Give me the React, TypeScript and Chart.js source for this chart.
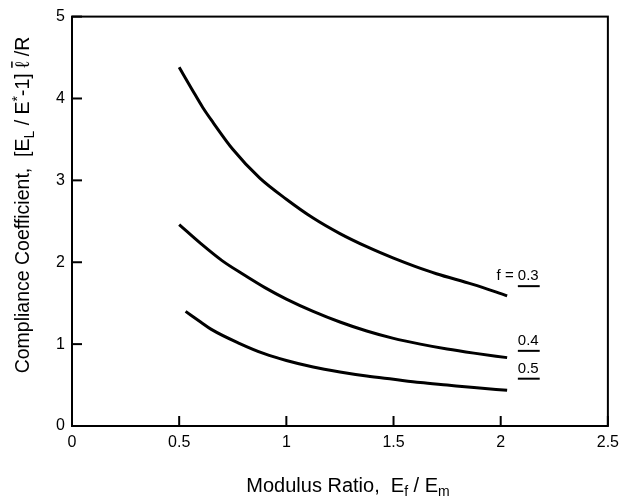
import React, { useEffect, useRef } from "react";
import { Chart, registerables } from "chart.js";

Chart.register(...registerables);

// Curve f = 0.3
const xF03 = [0.5, 0.56, 0.61, 0.66, 0.75, 0.875, 1.0, 1.125, 1.25, 1.375, 1.5, 1.6, 1.7, 1.87, 2.03];
const yF03 = [4.38, 4.11, 3.89, 3.7, 3.38, 3.03, 2.77, 2.54, 2.35, 2.19, 2.05, 1.95, 1.86, 1.73, 1.59];
// Curve f = 0.4
const xF04 = [0.5, 0.6, 0.7, 0.8, 0.9, 1.0, 1.125, 1.25, 1.375, 1.5, 1.625, 1.75, 1.875, 2.03];
const yF04 = [2.46, 2.23, 2.02, 1.85, 1.69, 1.55, 1.4, 1.27, 1.16, 1.07, 1.0, 0.94, 0.89, 0.835];
// Curve f = 0.5
const xF05 = [0.53, 0.6, 0.65, 0.78, 0.9, 1.0, 1.125, 1.25, 1.375, 1.5, 1.625, 1.75, 1.875, 2.03];
const yF05 = [1.4, 1.27, 1.18, 1.01, 0.88, 0.8, 0.72, 0.66, 0.61, 0.57, 0.53, 0.5, 0.47, 0.436];

const fractions = ["0.3", "0.4", "0.5"];
const xTickValues = [0, 0.5, 1, 1.5, 2, 2.5];
const yTickValues = [0, 1, 2, 3, 4, 5];

const FONT = "'Liberation Sans', Arial, Helvetica, sans-serif";

type Part = { t: string; sub?: boolean; sup?: boolean; over?: boolean };

function drawRich(ctx: CanvasRenderingContext2D, parts: Part[], cx: number, cy: number, size: number) {
  const small = Math.round(size * 0.7);
  const widths = parts.map((p) => {
    ctx.font = `${p.sub || p.sup ? small : size}px ${FONT}`;
    return ctx.measureText(p.t).width;
  });
  const total = widths.reduce((a, b) => a + b, 0);
  let x = cx - total / 2;
  ctx.textAlign = "left";
  ctx.textBaseline = "middle";
  parts.forEach((p, i) => {
    ctx.font = `${p.sub || p.sup ? small : size}px ${FONT}`;
    let dy = 0;
    if (p.sub) dy = size * 0.3;
    if (p.sup) dy = -size * 0.3;
    ctx.fillText(p.t, x, cy + dy);
    if (p.over) {
      ctx.beginPath();
      ctx.lineWidth = 1.5;
      ctx.moveTo(x, cy - size * 0.62);
      ctx.lineTo(x + widths[i], cy - size * 0.62);
      ctx.stroke();
    }
    x += widths[i];
  });
}

const decorPlugin = {
  id: "decor",
  afterDraw(chart: any) {
    const ctx: CanvasRenderingContext2D = chart.ctx;
    const { left, right, top, bottom } = chart.chartArea;
    const xs = chart.scales.x;
    const ys = chart.scales.y;
    ctx.save();
    ctx.strokeStyle = "#000";
    ctx.fillStyle = "#000";
    // frame
    ctx.lineWidth = 2;
    ctx.strokeRect(left, top, right - left, bottom - top);
    // inward ticks
    const tl = 10;
    xTickValues.forEach((v) => {
      const px = xs.getPixelForValue(v);
      ctx.beginPath();
      ctx.moveTo(px, bottom);
      ctx.lineTo(px, bottom - tl);
      ctx.stroke();
    });
    yTickValues.forEach((v) => {
      const py = ys.getPixelForValue(v);
      ctx.beginPath();
      ctx.moveTo(left, py);
      ctx.lineTo(left + tl, py);
      ctx.stroke();
    });
    // curve labels
    const labelX = xs.getPixelForValue(2.08);
    const labelYs = [1.83, 1.04, 0.7];
    ctx.font = `15px ${FONT}`;
    ctx.textBaseline = "middle";
    fractions.forEach((f, i) => {
      const py = ys.getPixelForValue(labelYs[i]);
      ctx.textAlign = "left";
      ctx.fillText(f, labelX, py);
      const w = ctx.measureText(f).width;
      ctx.beginPath();
      ctx.lineWidth = 2;
      ctx.moveTo(labelX, py + 10);
      ctx.lineTo(labelX + w + 1, py + 10);
      ctx.stroke();
      if (i === 0) {
        ctx.textAlign = "right";
        ctx.fillText("f = ", labelX, py);
      }
    });
    // axis titles
    drawRich(
      ctx,
      [{ t: "Modulus Ratio,  E" }, { t: "f", sub: true }, { t: " / E" }, { t: "m", sub: true }],
      348,
      486,
      20
    );
    ctx.save();
    ctx.translate(24, 205);
    ctx.rotate(-Math.PI / 2);
    drawRich(
      ctx,
      [
        { t: "Compliance Coefficient,  [E" },
        { t: "L", sub: true },
        { t: " / E" },
        { t: "*", sup: true },
        { t: "-1] " },
        { t: "\u2113", over: true },
        { t: " /R" },
      ],
      0,
      0,
      19.5
    );
    ctx.restore();
    ctx.restore();
  },
};

function toPts(xs: number[], ys: number[]) {
  return xs.map((x, i) => ({ x, y: ys[i] }));
}

export default function App() {
  const ref = useRef<HTMLCanvasElement | null>(null);
  useEffect(() => {
    document.body.style.margin = "0";
    const canvas = ref.current!;
    const lineDs = (data: any) => ({
      data,
      borderColor: "#000",
      borderWidth: 3,
      pointRadius: 0,
      fill: false,
      cubicInterpolationMode: "monotone" as const,
    });
    const chart = new Chart(canvas, {
      type: "line",
      data: {
        datasets: [lineDs(toPts(xF03, yF03)), lineDs(toPts(xF04, yF04)), lineDs(toPts(xF05, yF05))],
      },
      options: {
        animation: false,
        responsive: false,
        maintainAspectRatio: false,
        layout: { padding: { top: 13, right: 12, left: 0, bottom: 0 } },
        plugins: { legend: { display: false }, tooltip: { enabled: false }, title: { display: false } },
        scales: {
          x: {
            type: "linear",
            min: 0,
            max: 2.5,
            grid: { display: false, drawTicks: false },
            border: { display: false },
            ticks: {
              stepSize: 0.5,
              padding: 7,
              color: "#000",
              font: { family: FONT, size: 16 },
              maxRotation: 0,
              autoSkip: false,
              callback: (v: any) => String(v),
            },
            afterFit: (s: any) => {
              s.height = 78;
            },
          },
          y: {
            type: "linear",
            min: 0,
            max: 5,
            grid: { display: false, drawTicks: false },
            border: { display: false },
            ticks: {
              stepSize: 1,
              padding: 7,
              color: "#000",
              font: { family: FONT, size: 16 },
              callback: (v: any) => String(v),
            },
            afterFit: (s: any) => {
              s.width = 72;
            },
          },
        },
      },
      plugins: [decorPlugin],
    });
    return () => chart.destroy();
  }, []);
  return (
    <div style={{ width: 626, height: 504 }}>
      <canvas ref={ref} width={626} height={504} style={{ display: "block" }} />
    </div>
  );
}
